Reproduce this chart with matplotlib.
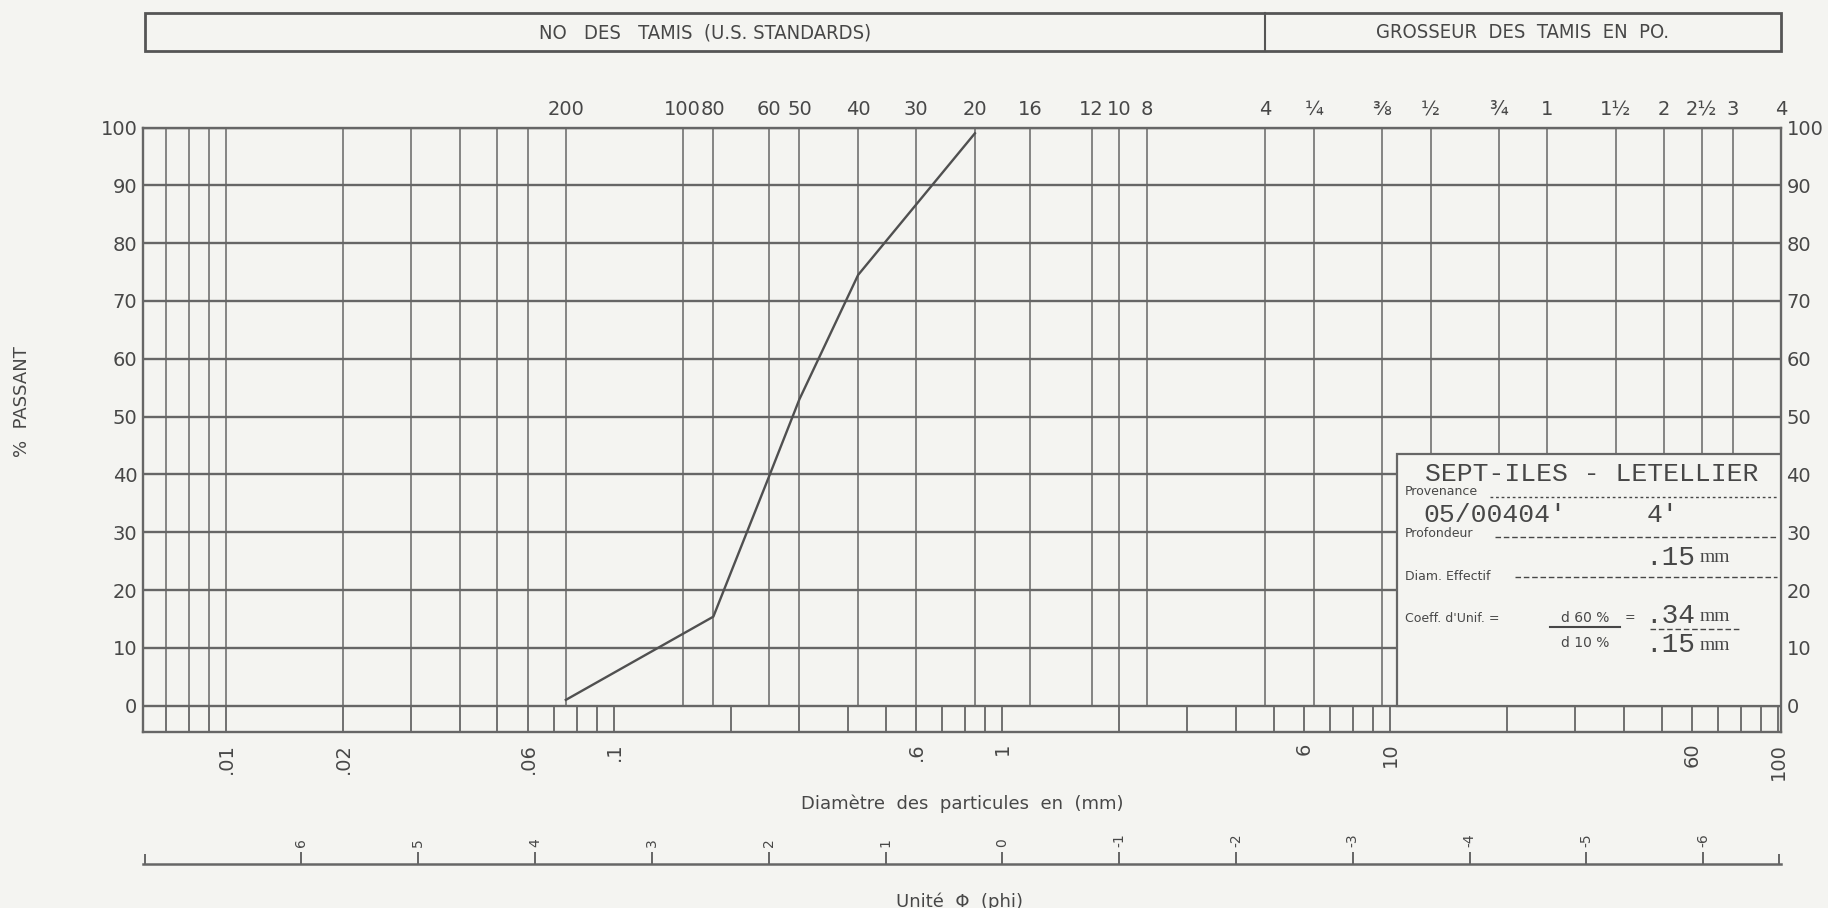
import matplotlib.pyplot as plt
from matplotlib.lines import Line2D
from matplotlib.patches import Rectangle
from matplotlib.transforms import blended_transform_factory

plt.rcParams['font.family'] = ['DejaVu Sans']

# courbe granulométrique
diam_mm = [0.075, 0.18, 0.25, 0.3, 0.425, 0.85]
passant = [1.0, 15.4, 39.5, 53.0, 74.5, 99.0]

# tamis U.S. (no) et grosseurs en pouces, exprimés en mm
sieve_mm = [0.075, 0.15, 0.18, 0.25, 0.3, 0.425, 0.6, 0.85, 1.18, 1.7, 2.0, 2.36,
            4.75, 6.35, 9.5, 12.7, 19.05, 25.4, 38.1, 50.8, 63.5, 76.2, 101.6]
sieve_labels = ['200', '100', '80', '60', '50', '40', '30', '20', '16', '12', '10', '8',
                '4', '¼', '⅜', '½', '¾', '1', '1½', '2', '2½', '3', '4']
fine_lines_mm = [0.007, 0.008, 0.009, 0.01, 0.02, 0.03, 0.04, 0.05, 0.06]

mm_ticks = [0.01, 0.02, 0.06, 0.1, 0.6, 1, 6, 10, 60, 100]
mm_labels = ['.01', '.02', '.06', '.1', '.6', '1', '6', '10', '60', '100']

phi_values = [6, 5, 4, 3, 2, 1, 0, -1, -2, -3, -4, -5, -6]

X_MIN, X_MAX = 0.0061, 101.6
PAPER = '#f4f4f1'
GRID = '#666666'
INK = '#474747'
W, H = 1828, 908


def fx(px):
    return px / W


def fy(py):
    return 1 - py / H


fig = plt.figure(figsize=(W / 100, H / 100), dpi=100)
fig.patch.set_facecolor(PAPER)

left, right, top, bottom = 143, 1781, 127.5, 731.7
ax = fig.add_axes([fx(left), fy(bottom), (right - left) / W, (bottom - top) / H])
ax.set_facecolor(PAPER)
ax.set_xscale('log')
ax.set_xlim(X_MIN, X_MAX)
ax.set_ylim(-4.5, 100)

# quadrillage
for y in range(0, 101, 10):
    ax.axhline(y, color=GRID, lw=1.7, zorder=1)
ax.vlines(fine_lines_mm + sieve_mm, 0, 100, color=GRID, lw=1.1, zorder=1)
band = [m * 10.0 ** e for e in range(-3, 3) for m in range(1, 10)]
band = [b for b in band if X_MIN * 1.05 < b < X_MAX * 0.99]
ax.vlines(band, -4.5, 0, color=GRID, lw=1.3, zorder=1)
for s in ax.spines.values():
    s.set_color(GRID)
    s.set_linewidth(1.7)

ax.set_xticks(mm_ticks, mm_labels, rotation=90, fontsize=14, color=INK)
ax.set_xticks([], minor=True)
ax.tick_params(axis='x', length=0, pad=8)
ax.set_yticks(range(0, 101, 10))
ax.tick_params(axis='y', length=0, pad=4, labelsize=14, labelcolor=INK,
               labelleft=True, labelright=True)

ax.plot(diam_mm, passant, color='#505050', lw=1.7, zorder=5)

# numéros de tamis en haut
top_ax = ax.twiny()
top_ax.set_xscale('log')
top_ax.set_xlim(X_MIN, X_MAX)
top_ax.set_xticks(sieve_mm, sieve_labels, fontsize=14, color=INK)
top_ax.set_xticks([], minor=True)
top_ax.tick_params(axis='x', length=0, pad=6)
for s in top_ax.spines.values():
    s.set_visible(False)

# cartouche
trans = blended_transform_factory(ax.transAxes, ax.transData)
box_x0 = (1397 - left) / (right - left)
ax.add_patch(Rectangle((box_x0, 0), 1 - box_x0, 43.5, transform=trans,
                       facecolor=PAPER, edgecolor=GRID, lw=1.6, zorder=3))

mono = 'Liberation Mono'
serif = 'Liberation Serif'
fig.text(fx(1592), fy(474), 'SEPT-ILES - LETELLIER', family=mono, fontsize=19,
         color=INK, ha='center', va='center')
fig.text(fx(1405), fy(495), 'Provenance', fontsize=9, color=INK, va='baseline')
fig.text(fx(1423), fy(522), "05/00404'", family=mono, fontsize=19, color=INK, va='baseline')
fig.text(fx(1662), fy(522), "4'", family=mono, fontsize=19, color=INK, ha='center', va='baseline')
fig.text(fx(1405), fy(537), 'Profondeur', fontsize=9, color=INK, va='baseline')
fig.text(fx(1645), fy(565), '.15', family=mono, fontsize=20, color=INK, va='baseline')
fig.text(fx(1700), fy(562), 'mm', family=serif, fontsize=14, color=INK, va='baseline')
fig.text(fx(1405), fy(580), 'Diam. Effectif', fontsize=9, color=INK, va='baseline')
fig.text(fx(1405), fy(622), "Coeff. d'Unif. =", fontsize=9, color=INK, va='baseline')
fig.text(fx(1585), fy(622), 'd 60 %', fontsize=10, color=INK, ha='center', va='baseline')
fig.text(fx(1585), fy(647), 'd 10 %', fontsize=10, color=INK, ha='center', va='baseline')
fig.text(fx(1630), fy(621), '=', fontsize=9, color=INK, ha='center', va='baseline')
fig.text(fx(1645), fy(623), '.34', family=mono, fontsize=20, color=INK, va='baseline')
fig.text(fx(1700), fy(621), 'mm', family=serif, fontsize=14, color=INK, va='baseline')
fig.text(fx(1645), fy(652), '.15', family=mono, fontsize=20, color=INK, va='baseline')
fig.text(fx(1700), fy(650), 'mm', family=serif, fontsize=14, color=INK, va='baseline')

for x0, x1, y, ls in [(1490, 1777, 497, (0, (2, 2))), (1495, 1777, 537, (0, (4, 2))),
                      (1515, 1777, 577, (0, (4, 2))), (1650, 1740, 629, (0, (4, 2)))]:
    fig.add_artist(Line2D([fx(x0), fx(x1)], [fy(y), fy(y)], color=INK, lw=1.0, ls=ls))
fig.add_artist(Line2D([fx(1550), fx(1620)], [fy(627), fy(627)], color=INK, lw=1.5))

# bandeau d'en-tête
fig.add_artist(Rectangle((fx(145), fy(51)), fx(1781 - 145), (51 - 13) / H,
                         facecolor='none', edgecolor='#555555', lw=2))
fig.add_artist(Line2D([fx(1265), fx(1265)], [fy(13), fy(51)], color='#555555', lw=1.5))
fig.text(fx(705), fy(33), 'NO   DES   TAMIS  (U.S. STANDARDS)', fontsize=14.5,
         fontstretch='condensed', color=INK, ha='center', va='center')
fig.text(fx(1523), fy(33), 'GROSSEUR  DES  TAMIS  EN  PO.', fontsize=14.5,
         fontstretch='condensed', color=INK, ha='center', va='center')

fig.text(fx(22), fy(402), '%  PASSANT', rotation=90, fontsize=13, color=INK,
         ha='center', va='center')
fig.text(fx(962), fy(804), 'Diamètre  des  particules  en  (mm)', fontsize=13,
         color=INK, ha='center', va='center')

# échelle phi
phi_ax = fig.add_axes([fx(left), fy(874), (right - left) / W, 10 / H])
phi_ax.patch.set_visible(False)
phi_ax.set_xscale('log')
phi_ax.set_xlim(X_MIN, X_MAX)
for name, s in phi_ax.spines.items():
    s.set_visible(name == 'top')
phi_ax.spines['top'].set_color(GRID)
phi_ax.spines['top'].set_linewidth(1.8)
phi_ax.set_yticks([])
phi_ax.xaxis.set_ticks_position('top')
phi_ax.set_xticks([2.0 ** -p for p in phi_values], [str(p) for p in phi_values],
                  rotation=90, fontsize=10, color=INK)
phi_ax.set_xticks([X_MIN * 1.01, X_MAX * 0.99], minor=True)
phi_ax.tick_params(axis='x', which='major', direction='out', length=9, width=1.4,
                   color=GRID, pad=3)
phi_ax.tick_params(axis='x', which='minor', direction='out', length=7, width=1.4,
                   color=GRID, labeltop=False)

fig.text(fx(960), fy(902), 'Unité  Φ  (phi)', fontsize=13, color=INK,
         ha='center', va='center')

fig.savefig('out.png', dpi=100, facecolor=PAPER)
